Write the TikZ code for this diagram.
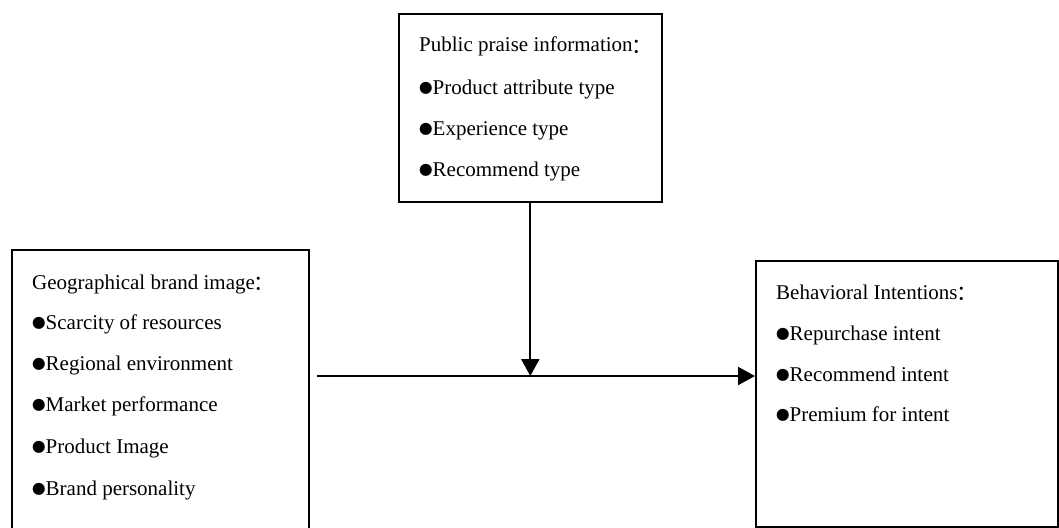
\documentclass[tikz,border=0pt]{standalone}
\usepackage{fontspec}
\setmainfont{Liberation Serif}
\newfontfamily\cjk{Noto Sans CJK SC}
\usetikzlibrary{arrows.meta}
\newcommand{\bul}{\raisebox{0.5pt}{\cjk\fontsize{13.5}{13.5}\selectfont ●}}
\newcommand{\fcolon}{\kern-1pt\raisebox{-1.5pt}{\cjk ：}}
\begin{document}
\begin{tikzpicture}[x=1pt,y=-1pt,
  box/.style={draw, line width=1.6pt, anchor=north west, inner sep=0pt},
  txt/.style={anchor=base west, inner sep=0pt, font=\fontsize{21}{24}\selectfont},
  conn/.style={line width=2.2pt, -{Triangle[length=17pt,width=18pt]}}]
\clip (0,0) rectangle (1059,527);
% boxes
\node[box, minimum width=263pt, minimum height=188pt] (top) at (398,13) {};
\node[box, minimum width=297pt, minimum height=300pt] (left) at (11,249) {};
\node[box, minimum width=302pt, minimum height=266pt] (right) at (755,260) {};
% top texts
\node[txt] (t0) at (419,52) {Public praise information\fcolon};
\node[txt] (t1) at (419,94) {\bul Product attribute type};
\node[txt] (t2) at (419,135) {\bul Experience type};
\node[txt] (t3) at (419,176) {\bul Recommend type};
% left texts
\node[txt] (l0) at (32,289) {Geographical brand image\fcolon};
\node[txt] (l1) at (32,329) {\bul Scarcity of resources};
\node[txt] (l2) at (32,370) {\bul Regional environment};
\node[txt] (l3) at (32,411) {\bul Market performance};
\node[txt] (l4) at (32,453) {\bul Product Image};
\node[txt] (l5) at (32,495) {\bul Brand personality};
% right texts
\node[txt] (r0) at (776,299) {Behavioral Intentions\fcolon};
\node[txt] (r1) at (776,340) {\bul Repurchase intent};
\node[txt] (r2) at (776,381) {\bul Recommend intent};
\node[txt] (r3) at (776,421) {\bul Premium for intent};
% connectors
\coordinate (hs) at (317,376);
\draw[conn] (hs) -- (hs -| right.west);
\draw[conn] (top.south) -- (top.south |- hs);
\end{tikzpicture}
\end{document}
